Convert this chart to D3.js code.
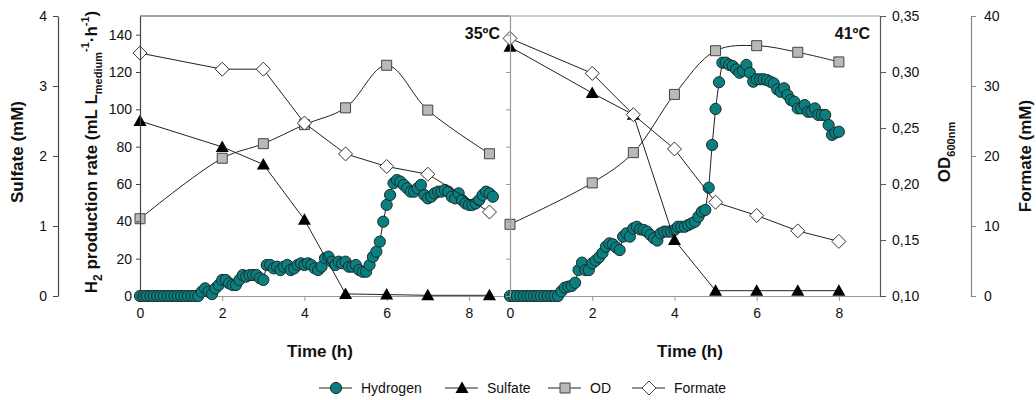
<!DOCTYPE html>
<html lang="en">
<head>
<meta charset="utf-8">
<title>H2 production 35 / 41 C</title>
<script src="https://d3js.org/d3.v7.min.js"></script>
<style>
  body { margin: 0; background: #fff; }
  svg text { font-family: Arial, "Liberation Sans", sans-serif; fill: #111; }
  .tick text { font-size: 14px; }
  .title { font-size: 17px; font-weight: bold; }
  .temp { font-size: 16px; font-weight: bold; }
  .legend text { font-size: 14px; }
</style>
</head>
<body>
<svg id="chart" width="1036" height="400"></svg>
<script>
// sampling times of sulfate / OD / formate (h)
var hours35 = [0, 2, 3, 4, 5, 6, 7, 8.5];
var hours41 = [0, 2, 3, 4, 5, 6, 7, 8];

var sulfate35 = [2.5, 2.13, 1.88, 1.09, 0.03, 0.02, 0.01, 0.01];
var od35 = [0.169, 0.223, 0.236, 0.253, 0.268, 0.306, 0.266, 0.227];
var formate35 = [34.7, 32.4, 32.4, 24.7, 20.3, 18.5, 17.4, 12.0];

var sulfate41 = [3.56, 2.90, 2.59, 0.80, 0.076, 0.076, 0.076, 0.076];
var od41 = [0.164, 0.201, 0.228, 0.280, 0.319, 0.3235, 0.3176, 0.309];
var formate41 = [36.8, 31.8, 25.9, 21.0, 13.4, 11.5, 9.3, 7.8];

// hydrogen production rate, one reading every 5 min
var h2Step = 5 / 60;
var h2At35 = [0,0,0,0,0,0,0,0,0,0,0,0,0,0,0,0,0,0,
  2.3,4.1,2.3,1.0,4.1,5.9,8.6,8.6,6.8,5.9,5.9,8.6,11.2,10.4,11.2,11.2,11.2,9.5,8.6,
  16.6,16.6,14.8,15.7,13.9,15.7,16.6,13.9,14.8,16.6,17.5,16.6,17.5,16.6,14.8,13.9,15.7,
  20.2,21.1,18.4,16.6,18.4,17.5,18.4,15.7,15.7,16.6,13.9,13.0,13.0,16.6,21.0,23.8,29.1,
  39.8,48.8,54.1,60.4,62.1,61.3,59.5,57.7,55.9,55.9,57.7,59.5,54.1,52.3,53.2,55.0,55.9,
  55.9,56.8,55.9,53.2,52.3,55.0,51.4,49.6,48.8,48.8,49.6,51.4,54.1,55.9,55.0,53.2];
var h2At41 = [0,0,0,0,0,0,0,0,0,0,0,0,0,0,0,
  2.5,4.5,5.0,5.4,7.1,13.9,17.9,13.9,13.9,17.5,19.0,20.7,23.0,26.4,28.2,27.7,26.0,24.6,
  31.8,33.6,31.8,36.2,37.1,35.7,35.4,34.5,32.7,30.9,29.7,33.6,34.5,34.5,34.5,35.4,37.1,
  37.1,37.1,38.0,38.9,39.8,42.5,45.2,46.1,58.0,80.9,100.2,114.5,125.0,125.0,123.8,123.2,
  121.4,119.6,120.7,123.8,119.6,114.8,116.1,116.1,116.1,115.7,114.8,113.9,110.7,109.4,
  111.3,107.7,105.0,104.1,100.5,100.5,102.3,98.7,98.7,100.5,97.0,97.0,97.0,91.6,86.3,87.5,88.0];

var h2Ticks = [0, 20, 40, 60, 80, 100, 120, 140];
var sulfateTicks = [0, 1, 2, 3, 4];
var odTicks = [0.10, 0.15, 0.20, 0.25, 0.30, 0.35];
var formateTicks = [0, 10, 20, 30, 40];
var timeTicks = [0, 2, 4, 6, 8];
var seriesNames = ["Hydrogen", "Sulfate", "OD", "Formate"];

var plotTop = 16, plotBottom = 296;
var svg = d3.select("#chart");

var yH2 = d3.scaleLinear().domain([0, 150]).range([plotBottom, plotTop]);
var ySul = d3.scaleLinear().domain([0, 4]).range([plotBottom, plotTop]);
var yOD = d3.scaleLinear().domain([0.10, 0.35]).range([plotBottom, plotTop]);
var yFor = d3.scaleLinear().domain([0, 40]).range([plotBottom, plotTop]);

// marker shapes
var tri = "M0,-6.5L6.5,5L-6.5,5Z";
var sq = "M-5,-5H5V5H-5Z";
var dia = "M0,-7L7,0L0,7L-7,0Z";

function styleAxis(g, col) {
  g.select(".domain").attr("stroke", col).attr("stroke-width", 1.2);
  g.selectAll(".tick line").attr("stroke", col);
  g.selectAll(".tick text").attr("fill", "#111").style("font-family", "Arial, 'Liberation Sans', sans-serif");
}

function drawPanel(x0, x1, hours, sul, od, form, h2, label) {
  var x = d3.scaleLinear().domain([0, 9]).range([x0, x1]);

  var xa = svg.append("g").attr("transform", "translate(0," + plotBottom + ")")
    .call(d3.axisBottom(x).tickValues(timeTicks).tickSize(5).tickSizeOuter(0).tickPadding(7));
  styleAxis(xa, "#999");

  svg.append("text").attr("class", "title")
    .attr("x", (x0 + x1) / 2 - 5).attr("y", 357)
    .attr("text-anchor", "middle").text("Time (h)");

  svg.append("text").attr("class", "temp")
    .attr("x", x1 - 10).attr("y", 39)
    .attr("text-anchor", "end").text(label);

  var g = svg.append("g");

  // hydrogen
  var h2pts = h2.map(function(v, i) { return [i * h2Step, v]; });
  g.append("path").datum(h2pts)
    .attr("fill", "none").attr("stroke", "#222").attr("stroke-width", 1)
    .attr("d", d3.line().x(function(d) { return x(d[0]); }).y(function(d) { return yH2(d[1]); }));
  g.selectAll(null).data(h2pts).enter().append("circle")
    .attr("cx", function(d) { return x(d[0]); })
    .attr("cy", function(d) { return yH2(d[1]); })
    .attr("r", 5.6)
    .attr("fill", "#0a7f7f").attr("stroke", "#1b2b2b").attr("stroke-width", 1);

  // sulfate
  var sulPts = hours.map(function(t, i) { return [t, sul[i]]; });
  g.append("path").datum(sulPts)
    .attr("fill", "none").attr("stroke", "#222").attr("stroke-width", 1)
    .attr("d", d3.line().x(function(d) { return x(d[0]); }).y(function(d) { return ySul(d[1]); }));
  g.selectAll(null).data(sulPts).enter().append("path")
    .attr("d", tri).attr("fill", "#000")
    .attr("transform", function(d) { return "translate(" + x(d[0]) + "," + ySul(d[1]) + ")"; });

  // OD
  var odPts = hours.map(function(t, i) { return [t, od[i]]; });
  g.append("path").datum(odPts)
    .attr("fill", "none").attr("stroke", "#222").attr("stroke-width", 1)
    .attr("d", d3.line().curve(d3.curveCatmullRom.alpha(0.5))
      .x(function(d) { return x(d[0]); }).y(function(d) { return yOD(d[1]); }));
  g.selectAll(null).data(odPts).enter().append("path")
    .attr("d", sq).attr("fill", "#b9b9b9").attr("stroke", "#444").attr("stroke-width", 1)
    .attr("transform", function(d) { return "translate(" + x(d[0]) + "," + yOD(d[1]) + ")"; });

  // formate
  var forPts = hours.map(function(t, i) { return [t, form[i]]; });
  g.append("path").datum(forPts)
    .attr("fill", "none").attr("stroke", "#222").attr("stroke-width", 1)
    .attr("d", d3.line().x(function(d) { return x(d[0]); }).y(function(d) { return yFor(d[1]); }));
  g.selectAll(null).data(forPts).enter().append("path")
    .attr("d", dia).attr("fill", "#fff").attr("stroke", "#333").attr("stroke-width", 1)
    .attr("transform", function(d) { return "translate(" + x(d[0]) + "," + yFor(d[1]) + ")"; });
}

// frame top
svg.append("line").attr("x1", 140).attr("x2", 510).attr("y1", plotTop).attr("y2", plotTop).attr("stroke", "#444");
svg.append("line").attr("x1", 510).attr("x2", 880).attr("y1", plotTop).attr("y2", plotTop).attr("stroke", "#999");

drawPanel(140, 510, hours35, sulfate35, od35, formate35, h2At35, "35ºC");
drawPanel(510, 880, hours41, sulfate41, od41, formate41, h2At41, "41ºC");

// H2 axes
var aH2 = svg.append("g").attr("transform", "translate(140,0)")
  .call(d3.axisLeft(yH2).tickValues(h2Ticks).tickSize(4).tickSizeOuter(0).tickPadding(4));
styleAxis(aH2, "#444");
var aH2b = svg.append("g").attr("transform", "translate(510,0)")
  .call(d3.axisLeft(yH2).tickValues(h2Ticks).tickSize(4).tickSizeOuter(0).tickFormat(""));
styleAxis(aH2b, "#999");

// sulfate axis
var aSul = svg.append("g").attr("transform", "translate(58,0)")
  .call(d3.axisLeft(ySul).tickValues(sulfateTicks).tickSize(5).tickSizeOuter(0).tickPadding(6)
    .tickFormat(d3.format("d")));
styleAxis(aSul, "#444");

// OD axis
var aOD = svg.append("g").attr("transform", "translate(880,0)")
  .call(d3.axisRight(yOD).tickValues(odTicks).tickSize(6).tickSizeOuter(0).tickPadding(6)
    .tickFormat(function(d) { return d3.format(".2f")(d).replace(".", ","); }));
styleAxis(aOD, "#555");

// formate axis
var aFor = svg.append("g").attr("transform", "translate(971,0)")
  .call(d3.axisRight(yFor).tickValues(formateTicks).tickSize(5).tickSizeOuter(0).tickPadding(8)
    .tickFormat(d3.format("d")));
styleAxis(aFor, "#888");

// axis titles
svg.append("text").attr("class", "title")
  .attr("transform", "translate(23,152) rotate(-90)")
  .attr("text-anchor", "middle").text("Sulfate (mM)");

var h2t = svg.append("text").attr("class", "title")
  .attr("transform", "translate(97,152) rotate(-90)")
  .attr("text-anchor", "middle");
h2t.append("tspan").text("H");
h2t.append("tspan").attr("dy", 5).style("font-size", "12px").text("2");
h2t.append("tspan").attr("dy", -5).text(" production rate (mL L");
h2t.append("tspan").attr("dy", 5).style("font-size", "11px").text("medium");
h2t.append("tspan").attr("dy", -13).style("font-size", "11px").text("-1");
h2t.append("tspan").attr("dy", 8).text("·h");
h2t.append("tspan").attr("dy", -8).style("font-size", "11px").text("-1");
h2t.append("tspan").attr("dy", 8).text(")");

var odt = svg.append("text").attr("class", "title")
  .attr("transform", "translate(950,152) rotate(-90)")
  .attr("text-anchor", "middle");
odt.append("tspan").text("OD");
odt.append("tspan").attr("dy", 5).style("font-size", "11px").text("600nm");

svg.append("text").attr("class", "title")
  .attr("transform", "translate(1031,156) rotate(-90)")
  .attr("text-anchor", "middle").text("Formate (mM)");

// legend
var legendX = [319, 445, 548, 632];
var legendShapes = ["circle", tri, sq, dia];
var lg = svg.append("g").attr("class", "legend");
seriesNames.forEach(function(name, i) {
  var lx = legendX[i], ly = 388;
  lg.append("line").attr("x1", lx).attr("x2", lx + 33).attr("y1", ly).attr("y2", ly)
    .attr("stroke", "#222").attr("stroke-width", 1);
  if (i == 0) {
    lg.append("circle").attr("cx", lx + 17).attr("cy", ly).attr("r", 5.6)
      .attr("fill", "#0a7f7f").attr("stroke", "#1b2b2b");
  } else {
    lg.append("path").attr("d", legendShapes[i])
      .attr("transform", "translate(" + (lx + 17) + "," + ly + ")")
      .attr("fill", i == 1 ? "#000" : (i == 2 ? "#b9b9b9" : "#fff"))
      .attr("stroke", i == 1 ? "none" : "#444");
  }
  lg.append("text").attr("x", lx + 42).attr("y", ly + 5).text(name);
});
</script>
</body>
</html>
